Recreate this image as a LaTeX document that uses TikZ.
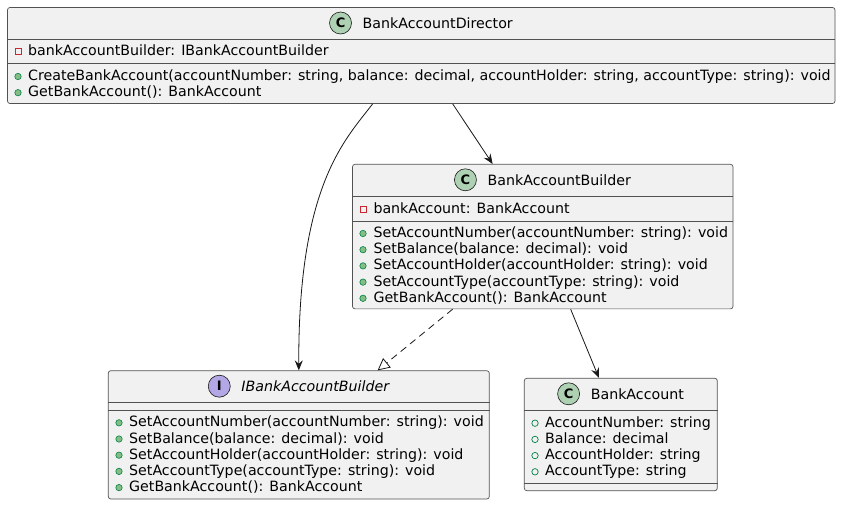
\documentclass[tikz,border=0pt]{standalone}
\usepackage{fontspec}
\setmainfont{DejaVu Sans}
\usetikzlibrary{arrows.meta,calc}
\definecolor{boxfill}{HTML}{F1F1F1}
\definecolor{boxline}{HTML}{181818}
\definecolor{cfill}{HTML}{ADD1B2}
\definecolor{ifill}{HTML}{B4A7E5}
\definecolor{privred}{HTML}{C82930}
\definecolor{pubgreen}{HTML}{038048}
\definecolor{pubfill}{HTML}{84BE84}
\tikzset{
  umlbox/.style={draw=boxline!75, fill=boxfill, line width=0.7pt, rounded corners=2.5pt, inner sep=0pt, rectangle},
  sepline/.style={draw=boxline!75, line width=0.7pt},
  mtext/.style={anchor=base west, inner sep=0pt, font=\fontsize{14.2pt}{16pt}\selectfont},
  ttext/.style={anchor=base, inner sep=0pt, font=\fontsize{14.2pt}{16pt}\selectfont},
  cicon/.style={circle, draw=boxline, line width=0.6pt, fill=cfill, minimum size=22pt, inner sep=0pt, font=\bfseries\fontsize{13pt}{13pt}\selectfont},
  iicon/.style={circle, draw=boxline, line width=0.6pt, fill=ifill, minimum size=22pt, inner sep=0pt, font=\bfseries\fontsize{13pt}{13pt}\selectfont},
  privicon/.style={rectangle, draw=privred, line width=0.7pt, minimum size=6pt, inner sep=0pt},
  pubmicon/.style={circle, draw=pubgreen, fill=pubfill, line width=0.6pt, minimum size=6.4pt, inner sep=0pt},
  pubficon/.style={circle, draw=pubgreen, line width=0.7pt, minimum size=6.4pt, inner sep=0pt},
  assoc/.style={draw=boxline, line width=0.8pt, -{Stealth[length=10pt,width=8pt,inset=3.5pt]}},
  realize/.style={draw=boxline, line width=0.8pt, dash pattern=on 7pt off 5pt, -{Triangle[open,length=12pt,width=12pt]}},
}
\begin{document}
\begin{tikzpicture}[x=1pt,y=-1pt]
\useasboundingbox (0,0) rectangle (841,505);
\fill[white] (0,0) rectangle (841,505);

% ---------- BankAccountDirector ----------
\node[umlbox, minimum width=827.5pt, minimum height=96pt] (dir) at (421.25,55.5) {};
\draw[sepline] (dir.west |- 0,39) -- (dir.east |- 0,39);
\draw[sepline] (dir.west |- 0,63) -- (dir.east |- 0,63);
\node[ttext] (dirT) at (437.75,28.5) {BankAccountDirector};
\path (dirT.base west) ++(-22,-5.5) node[cicon] (dirC) {C};
\node[privicon] (dirA1i) at (18,51.3) {};
\node[mtext] (dirA1) at (28,56) {bankAccountBuilder: IBankAccountBuilder};
\node[pubmicon] (dirM1i) at (18,76.5) {};
\node[mtext] (dirM1) at (28,80.5) {CreateBankAccount(accountNumber: string, balance: decimal, accountHolder: string, accountType: string): void};
\node[pubmicon] (dirM2i) at (18,92.7) {};
\node[mtext] (dirM2) at (28,96.7) {GetBankAccount(): BankAccount};

% ---------- BankAccountBuilder ----------
\node[umlbox, minimum width=380.5pt, minimum height=144.5pt] (bld) at (542.75,236.6) {};
\draw[sepline] (bld.west |- 0,196.7) -- (bld.east |- 0,196.7);
\draw[sepline] (bld.west |- 0,221) -- (bld.east |- 0,221);
\node[ttext] (bldT) at (559.25,185.3) {BankAccountBuilder};
\path (bldT.base west) ++(-22,-5.5) node[cicon] (bldC) {C};
\node[privicon] (bldA1i) at (363,209) {};
\node[mtext] (bldA1) at (373.3,213.5) {bankAccount: BankAccount};
\node[pubmicon] (bldM1i) at (363,233.5) {};
\node[mtext] (bldM1) at (373.3,237.5) {SetAccountNumber(accountNumber: string): void};
\node[pubmicon] (bldM2i) at (363,249.7) {};
\node[mtext] (bldM2) at (373.3,253.7) {SetBalance(balance: decimal): void};
\node[pubmicon] (bldM3i) at (363,265.9) {};
\node[mtext] (bldM3) at (373.3,269.9) {SetAccountHolder(accountHolder: string): void};
\node[pubmicon] (bldM4i) at (363,282.1) {};
\node[mtext] (bldM4) at (373.3,286.1) {SetAccountType(accountType: string): void};
\node[pubmicon] (bldM5i) at (363,298.3) {};
\node[mtext] (bldM5) at (373.3,302.3) {GetBankAccount(): BankAccount};

% ---------- IBankAccountBuilder ----------
\node[umlbox, minimum width=381pt, minimum height=128.3pt] (ibld) at (298.8,434.85) {};
\draw[sepline] (ibld.west |- 0,402.3) -- (ibld.east |- 0,402.3);
\draw[sepline] (ibld.west |- 0,410.3) -- (ibld.east |- 0,410.3);
\node[ttext, font=\itshape\fontsize{14.2pt}{16pt}\selectfont] (ibldT) at (315.3,391.7) {IBankAccountBuilder};
\path (ibldT.base west) ++(-22,-5.5) node[iicon] (ibldC) {I};
\node[pubmicon] (ibldM1i) at (119,422.8) {};
\node[mtext] (ibldM1) at (129,426.8) {SetAccountNumber(accountNumber: string): void};
\node[pubmicon] (ibldM2i) at (119,439) {};
\node[mtext] (ibldM2) at (129,443) {SetBalance(balance: decimal): void};
\node[pubmicon] (ibldM3i) at (119,455.2) {};
\node[mtext] (ibldM3) at (129,459.2) {SetAccountHolder(accountHolder: string): void};
\node[pubmicon] (ibldM4i) at (119,471.4) {};
\node[mtext] (ibldM4) at (129,475.4) {SetAccountType(accountType: string): void};
\node[pubmicon] (ibldM5i) at (119,487.6) {};
\node[mtext] (ibldM5) at (129,491.6) {GetBankAccount(): BankAccount};

% ---------- BankAccount ----------
\node[umlbox, minimum width=193pt, minimum height=112.4pt] (acc) at (620.8,434.5) {};
\draw[sepline] (acc.west |- 0,410.7) -- (acc.east |- 0,410.7);
\draw[sepline] (acc.west |- 0,483.3) -- (acc.east |- 0,483.3);
\node[ttext] (accT) at (637.3,399.3) {BankAccount};
\path (accT.base west) ++(-22,-5.5) node[cicon] (accC) {C};
\node[pubficon] (accA1i) at (535,423.2) {};
\node[mtext] (accA1) at (545,427.2) {AccountNumber: string};
\node[pubficon] (accA2i) at (535,439.4) {};
\node[mtext] (accA2) at (545,443.4) {Balance: decimal};
\node[pubficon] (accA3i) at (535,455.6) {};
\node[mtext] (accA3) at (545,459.6) {AccountHolder: string};
\node[pubficon] (accA4i) at (535,471.8) {};
\node[mtext] (accA4) at (545,475.8) {AccountType: string};

% ---------- connectors ----------
\draw[assoc] ($(dir.south west)+(365.5,0)$) .. controls (345,140) and (298,185) .. (ibld.north);
\draw[assoc] ($(dir.south west)+(445.5,0)$) -- ($(bld.north west)+(140.5,0)$);
\draw[assoc] ($(bld.south west)+(218.5,0)$) -- ($(acc.north west)+(75,0)$);
\draw[realize] ($(bld.south west)+(100.5,0)$) -- ($(ibld.north west)+(269.7,0)$);
\end{tikzpicture}
\end{document}
